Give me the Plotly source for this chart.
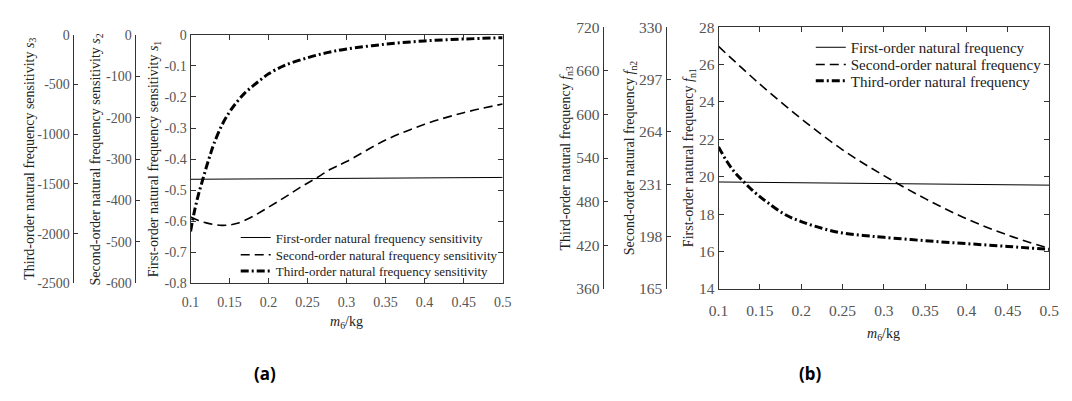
import plotly.graph_objects as go

W, H = 1072, 401

# ---------------- panel (a): sensitivities vs m6 ----------------
s1_m6 = [0.10, 0.20, 0.30, 0.40, 0.50]
s1 = [-0.465, -0.463, -0.462, -0.460, -0.459]

s2_m6 = [0.10, 0.11, 0.12, 0.13, 0.14, 0.15, 0.16, 0.18, 0.20, 0.22, 0.24,
         0.26, 0.28, 0.30, 0.35, 0.40, 0.45, 0.50]
s2 = [-440, -448, -454, -458, -460, -459, -455, -438, -416, -393, -369,
      -347, -324, -306, -254, -216, -188, -167]

s3_m6 = [0.100, 0.105, 0.110, 0.115, 0.120, 0.125, 0.130, 0.140, 0.150, 0.160,
         0.170, 0.180, 0.190, 0.200, 0.220, 0.250, 0.275, 0.300, 0.350, 0.400,
         0.450, 0.500]
s3 = [-1977, -1773, -1609, -1473, -1337, -1211, -1095, -911, -775, -669,
      -581, -514, -451, -392, -310, -230, -179, -142, -94, -61, -42, -29]

# ---------------- panel (b): natural frequencies vs m6 ----------------
f1_m6 = [0.10, 0.20, 0.30, 0.40, 0.50]
fn1 = [19.72, 19.68, 19.64, 19.60, 19.55]

f2_m6 = [0.10, 0.15, 0.20, 0.25, 0.30, 0.35, 0.40, 0.45, 0.50]
fn2 = [317.9, 294.1, 272.3, 252.7, 236.4, 221.9, 209.2, 198.9, 190.5]

f3_m6 = [0.100, 0.110, 0.120, 0.130, 0.140, 0.150, 0.160, 0.180, 0.200, 0.225,
         0.250, 0.275, 0.300, 0.350, 0.400, 0.450, 0.500]
fn3 = [555.3, 535.6, 519.8, 507.9, 496.7, 486.9, 478.3, 462.5, 452.6, 443.4,
       436.8, 433.5, 430.9, 426.3, 422.3, 418.4, 414.4]

# tick values / labels
x_ticks = [0.1, 0.15, 0.2, 0.25, 0.3, 0.35, 0.4, 0.45, 0.5]
x_labels = ["0.1", "0.15", "0.2", "0.25", "0.3", "0.35", "0.4", "0.45", "0.5"]
s1_ticks = [0, -0.1, -0.2, -0.3, -0.4, -0.5, -0.6, -0.7, -0.8]
s1_labels = ["0", "-0.1", "-0.2", "-0.3", "-0.4", "-0.5", "-0.6", "-0.7", "-0.8"]
s2_ticks = [0, -100, -200, -300, -400, -500, -600]
s2_labels = ["0", "-100", "-200", "-300", "-400", "-500", "-600"]
s3_ticks = [0, -500, -1000, -1500, -2000, -2500]
s3_labels = ["0", "-500", "-1000", "-1500", "-2000", "-2500"]
f1_ticks = [14, 16, 18, 20, 22, 24, 26, 28]
f2_ticks = [165, 198, 231, 264, 297, 330]
f3_ticks = [360, 420, 480, 540, 600, 660, 720]

SERIF = "Liberation Serif, Times New Roman, serif"
TICK_A = dict(family=SERIF, size=14, color="#555555")
TICK_B = dict(family=SERIF, size=15.5, color="#555555")
TITLE_FONT = dict(family=SERIF, size=14, color="#222222")
LEG_A = dict(family=SERIF, size=13, color="#222222")
LEG_B = dict(family=SERIF, size=15, color="#222222")
AXCOL = "#333333"


def px_x(p):
    return p / W


def px_y(p):
    return (H - p) / H


# plot-area geometry (pixels)
A_L, A_R, A_T, A_B = 184, 502, 27, 286.5
B_L, B_R, B_T, B_B = 722, 1059, 19, 292.3

fig = go.Figure()

line_solid = dict(color="black", width=1)
line_dash = dict(color="black", width=1.6, dash="9px,5px", shape="spline")
line_dashdot = dict(color="black", width=3, dash="8px,3px,2px,3px", shape="spline")

series = [
    (s1_m6, s1, line_solid, "First-order natural frequency sensitivity", "x", "y", "legend"),
    (s2_m6, s2, line_dash, "Second-order natural frequency sensitivity", "x", "y3", "legend3"),
    (s3_m6, s3, line_dashdot, "Third-order natural frequency sensitivity", "x", "y4", "legend4"),
    (f1_m6, fn1, line_solid, "First-order natural frequency", "x2", "y2", "legend2"),
    (f2_m6, fn2, line_dash, "Second-order natural frequency", "x2", "y5", "legend5"),
    (f3_m6, fn3, line_dashdot, "Third-order natural frequency", "x2", "y6", "legend6"),
]
for xs, ys, ln, name, xa, ya, lg in series:
    fig.add_trace(go.Scatter(x=xs, y=ys, mode="lines", line=ln, name=name,
                             xaxis=xa, yaxis=ya, legend=lg))


def frame(font):
    return dict(showline=True, linecolor=AXCOL, linewidth=1, mirror="ticks",
                ticks="inside", ticklen=5, tickcolor=AXCOL, tickfont=font,
                showgrid=False, zeroline=False)


def free(font):
    return dict(showline=True, linecolor=AXCOL, linewidth=1.3, ticks="inside",
                ticklen=4, tickcolor=AXCOL, tickfont=font, showgrid=False,
                zeroline=False, anchor="free", side="left")


ya_dom = [px_y(A_B), px_y(A_T)]
yb_dom = [px_y(B_B), px_y(B_T)]


def legend_at(xp, yc, font):
    # one legend box per entry, placed by the centre of its row
    return dict(x=px_x(xp), y=px_y(yc - 14), xanchor="left", yanchor="top",
                bgcolor="rgba(0,0,0,0)", font=font)


fig.update_layout(
    width=W, height=H,
    margin=dict(l=0, r=0, t=0, b=0),
    paper_bgcolor="white", plot_bgcolor="white",
    xaxis=dict(frame(TICK_A), domain=[px_x(A_L), px_x(A_R)], anchor="y", range=[0.1, 0.5],
               tickvals=x_ticks, ticktext=x_labels, ticklabelstandoff=6),
    yaxis=dict(frame(TICK_A), domain=ya_dom, anchor="x", range=[-0.8, 0],
               tickvals=s1_ticks, ticktext=s1_labels),
    yaxis3=dict(free(TICK_A), overlaying="y", domain=ya_dom, position=px_x(127),
                range=[-600, 0], tickvals=s2_ticks, ticktext=s2_labels),
    yaxis4=dict(free(TICK_A), overlaying="y", domain=ya_dom, position=px_x(64),
                range=[-2500, 0], tickvals=s3_ticks, ticktext=s3_labels),
    xaxis2=dict(frame(TICK_B), domain=[px_x(B_L), px_x(B_R)], anchor="y2", range=[0.1, 0.5],
                tickvals=x_ticks, ticktext=x_labels, ticklabelstandoff=7),
    yaxis2=dict(frame(TICK_B), domain=yb_dom, anchor="x2", range=[14, 28],
                tickvals=f1_ticks),
    yaxis5=dict(free(TICK_B), overlaying="y2", domain=yb_dom, position=px_x(668),
                range=[165, 330], tickvals=f2_ticks),
    yaxis6=dict(free(TICK_B), overlaying="y2", domain=yb_dom, position=px_x(604),
                range=[360, 720], tickvals=f3_ticks),
    legend=legend_at(230, 237, LEG_A),
    legend3=legend_at(230, 255, LEG_A),
    legend4=legend_at(230, 272, LEG_A),
    legend2=legend_at(816, 37, LEG_B),
    legend5=legend_at(816, 55, LEG_B),
    legend6=legend_at(816, 72, LEG_B),
    showlegend=True,
)

# axis titles
titles = [
    (20, (A_T + A_B) / 2, "Third-order natural frequency sensitivity <i>s</i><sub>3</sub>"),
    (88, (A_T + A_B) / 2, "Second-order natural frequency sensitivity <i>s</i><sub>2</sub>"),
    (147, (A_T + A_B) / 2, "First-order natural frequency sensitivity <i>s</i><sub>1</sub>"),
    (567, (B_T + B_B) / 2, "Third-order natural frequency <i>f</i><sub>n3</sub>"),
    (632, (B_T + B_B) / 2, "Second-order natural frequency <i>f</i><sub>n2</sub>"),
    (692, (B_T + B_B) / 2, "First-order natural frequency <i>f</i><sub>n1</sub>"),
]
for xp, yp, txt in titles:
    fig.add_annotation(x=px_x(xp), y=px_y(yp), xref="paper", yref="paper",
                       text=txt, textangle=-90, showarrow=False,
                       font=TITLE_FONT, xanchor="center", yanchor="middle")

for xp, yp in [((A_L + A_R) / 2, 327), ((B_L + B_R) / 2, 340)]:
    fig.add_annotation(x=px_x(xp), y=px_y(yp), xref="paper", yref="paper",
                       text="<i>m</i><sub>6</sub>/kg", showarrow=False,
                       font=TITLE_FONT, xanchor="center", yanchor="middle")

for xp, txt in [(260, "(a)"), (816, "(b)")]:
    fig.add_annotation(x=px_x(xp), y=px_y(381), xref="paper", yref="paper",
                       text=f"<b>{txt}</b>", showarrow=False,
                       font=dict(family="Noto Sans", size=17, color="black"),
                       xanchor="center", yanchor="middle")

fig.write_html("out.html")
